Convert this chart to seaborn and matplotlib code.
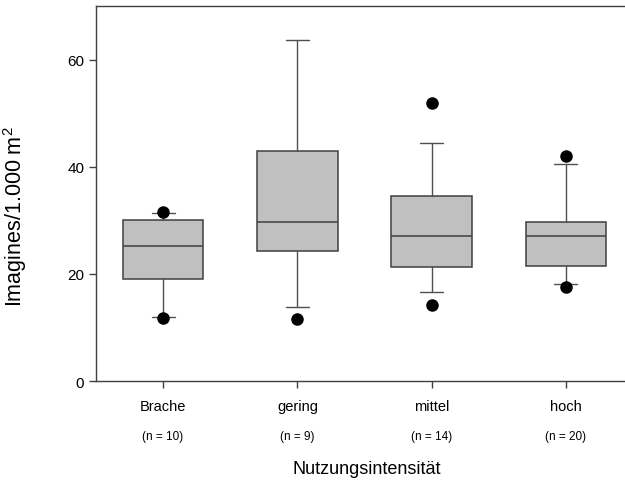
import matplotlib
matplotlib.use("Agg")
import matplotlib.pyplot as plt
import seaborn as sns

groups = ["Brache", "gering", "mittel", "hoch"]
n_obs = [10, 9, 14, 20]
q1 = [19.0, 24.3, 21.2, 21.5]
med = [25.2, 29.7, 27.1, 27.1]
q3 = [30.0, 42.9, 34.6, 29.6]
wlo = [11.9, 13.8, 16.7, 18.1]
whi = [31.3, 63.6, 44.5, 40.5]
outliers = [[31.5, 11.8], [11.6], [51.9, 14.2], [42.0, 17.5]]

sns.set_style("ticks")
plt.rcParams["font.family"] = ["Liberation Sans", "DejaVu Sans"]
plt.rcParams["mathtext.fontset"] = "custom"
plt.rcParams["mathtext.rm"] = "Liberation Sans"
plt.rcParams["text.color"] = "black"
plt.rcParams["axes.labelcolor"] = "black"
plt.rcParams["xtick.color"] = "black"
plt.rcParams["ytick.color"] = "black"

stats = []
for i, g in enumerate(groups):
    stats.append(dict(label=g, q1=q1[i], med=med[i], q3=q3[i],
                      whislo=wlo[i], whishi=whi[i], fliers=outliers[i]))

fig = plt.figure(figsize=(6.25, 4.81), dpi=100)
ax = fig.add_axes([96 / 625, 1 - 382 / 481, (633 - 96) / 625, 375 / 481])

ax.bxp(stats, positions=range(len(groups)), widths=0.6, patch_artist=True,
       boxprops=dict(facecolor="#c0c0c0", edgecolor="#404040", linewidth=1.1),
       medianprops=dict(color="#404040", linewidth=1.1),
       whiskerprops=dict(color="#505050", linewidth=1.0),
       capprops=dict(color="#505050", linewidth=1.0),
       capwidths=0.17,
       flierprops=dict(marker="o", markerfacecolor="black", markeredgecolor="black",
                       markersize=8, linestyle="none"))

ax.set_xlim(-0.5, 3.5)
ax.set_ylim(0, 70)
ax.set_yticks([0, 20, 40, 60])
ax.set_xticks(range(len(groups)))
ax.set_xticklabels(groups, fontsize=10.5)
ax.tick_params(axis="y", labelsize=11, length=5, color="#404040", width=1)
ax.tick_params(axis="x", length=5, color="#404040", width=1, pad=8)
for s in ax.spines.values():
    s.set_color("#404040")
    s.set_linewidth(1.0)

for i, n in enumerate(n_obs):
    ax.text(i, -0.147, f"(n = {n})", transform=ax.get_xaxis_transform(),
            ha="center", va="center", fontsize=8.5)

ax.set_ylabel("Imagines/1.000 m$^{2}$", fontsize=15.5)
ax.yaxis.set_label_coords(-0.125, 0.44)
fig.text(367 / 625, 1 - 470 / 481, "Nutzungsintensität", ha="center", va="center",
         fontsize=13)

fig.savefig("out.png", dpi=100)
